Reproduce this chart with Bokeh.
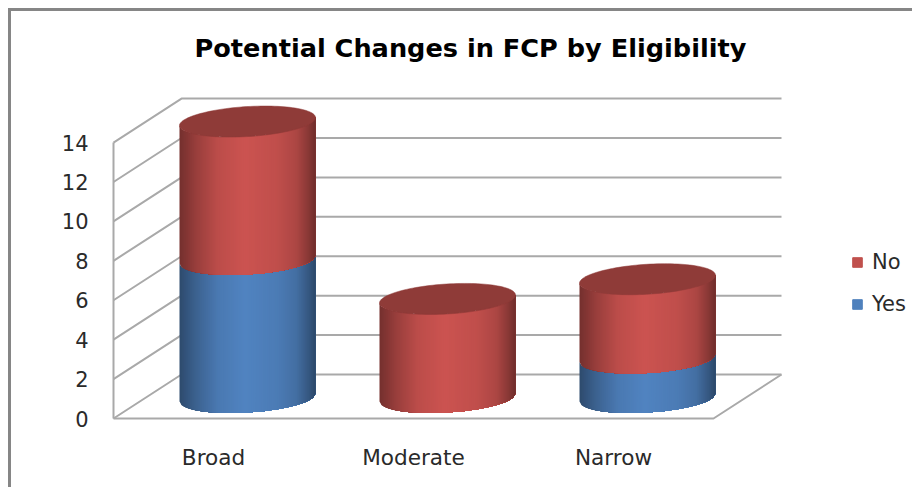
from bokeh.plotting import figure
from bokeh.models import Range1d, FixedTicker, Legend, LegendItem, InlineStyleSheet
from bokeh.embed import file_html
from bokeh.resources import INLINE
import numpy as np

categories = ["Broad", "Moderate", "Narrow"]
yes_values = [7, 0, 2]
no_values = [7, 5, 4]
y_ticks = [0, 2, 4, 6, 8, 10, 12, 14]

FONT = "DejaVu Sans"
GRID = "#a9a9a9"
RED = np.array([200, 82, 79])
BLUE = np.array([79, 129, 189])
RED_TOP = "#8f3b38"

# geometry in data units (x: category slots, y: value units)
UY = 19.71
DX, DY = 0.34, 44 / UY
A, B, SKEW = 0.34, 15 / UY, 4 / UY
BASE = 21 / UY
cat_x = [1, 2, 3]

border = InlineStyleSheet(css=""":host::before {content:""; position:absolute; left:8px; top:8px; right:0; bottom:0;
 border-left:3px solid #868686; border-top:3px solid #868686; pointer-events:none; z-index:5;}""")

p = figure(width=912, height=487, output_backend="svg", toolbar_location=None,
           x_range=Range1d(0.435, 4.495), y_range=Range1d(-22 / UY, 348 / UY),
           min_border_left=100, min_border_right=0, min_border_top=70, min_border_bottom=47,
           title="Potential Changes in FCP by Eligibility", stylesheets=[border])
p.outline_line_color = None
p.grid.visible = False
p.title.text_font = FONT
p.title.text_font_style = "bold"
p.title.text_font_size = "25.6px"
p.title.text_color = "#000000"
p.title.align = "left"
p.title.offset = 94
p.title.standoff = 15

# axes
p.yaxis.ticker = FixedTicker(ticks=y_ticks)
p.xaxis.ticker = FixedTicker(ticks=cat_x)
p.xaxis.major_label_overrides = {c: n for c, n in zip(cat_x, categories)}
for ax in (p.xaxis[0], p.yaxis[0]):
    ax.axis_line_color = None
    ax.major_tick_line_color = None
    ax.minor_tick_line_color = None
    ax.major_tick_out = 0
    ax.major_tick_in = 0
    ax.major_label_text_font = FONT
    ax.major_label_text_color = "#2a2a2a"
p.yaxis.major_label_text_font_size = "21px"
p.xaxis.major_label_text_font_size = "21.6px"
p.yaxis.major_label_standoff = 12
p.xaxis.major_label_standoff = 4

# walls and floor
x0, x1 = 0.5, 3.5
top = max(y_ticks)
for v in y_ticks:
    p.line([x0, x0 + DX, x1 + DX], [v, v + DY, v + DY], line_color=GRID, line_width=2)
p.line([x0, x0], [0, top], line_color=GRID, line_width=2)
p.line([x0, x1, x1 + DX], [0, 0, DY], line_color=GRID, line_width=2)

# shading across a cylinder
u_pts = [0, 0.04, 0.12, 0.28, 0.48, 0.72, 0.86, 0.95, 1]
f_pts = [0.58, 0.64, 0.76, 0.94, 1.02, 0.96, 0.86, 0.68, 0.56]
N = 68


def front(dx, level):
    return level + SKEW * dx / A - B * np.sqrt(np.clip(1 - (dx / A) ** 2, 0, 1))


def body(cx, lo, hi, base_color):
    # painted left to right: each strip runs to the right edge, the next covers it
    edges = np.linspace(-A, A, N + 1)
    xs, ys, cs = [], [], []
    for i in range(N):
        sub = edges[i:]
        lower = [front(d, lo + BASE) for d in sub]
        upper = [front(d, hi + BASE) for d in sub]
        xs.append(list(cx + sub) + list(cx + sub[::-1]))
        ys.append(lower + upper[::-1])
        f = np.interp((i + 0.5) / N, u_pts, f_pts)
        c = np.clip(base_color * f, 0, 255).astype(int)
        cs.append("#%02x%02x%02x" % tuple(c))
    p.patches(xs, ys, fill_color=cs, line_color=None)


for c, yes, no in zip(cat_x, yes_values, no_values):
    cx = c + DX / 2
    if yes > 0:
        body(cx, 0, yes, BLUE)
    body(cx, yes, yes + no, RED)
    t = np.linspace(0, 2 * np.pi, 120)
    ex = A * np.cos(t)
    ey = yes + no + BASE + SKEW * np.cos(t) + B * np.sin(t)
    p.patch(cx + ex, ey, fill_color=RED_TOP, line_color=RED_TOP, line_width=0.5)

# legend swatch sources sit outside the visible range
r_no = p.quad(left=[-9], right=[-8], top=[1], bottom=[0], fill_color="#c0504d", line_color="#c0504d")
r_yes = p.quad(left=[-9], right=[-8], top=[1], bottom=[0], fill_color="#4f81bd", line_color="#4f81bd")
legend = Legend(items=[LegendItem(label="No", renderers=[r_no]),
                       LegendItem(label="Yes", renderers=[r_yes])],
                location=(751, 124), orientation="vertical",
                border_line_color=None, background_fill_alpha=0,
                glyph_width=12, glyph_height=12, label_height=24, spacing=18,
                label_standoff=9, padding=0, margin=0,
                label_text_font=FONT, label_text_font_size="21px", label_text_color="#2a2a2a")
p.add_layout(legend, "center")

open("out.html", "w").write(file_html(p, INLINE))
